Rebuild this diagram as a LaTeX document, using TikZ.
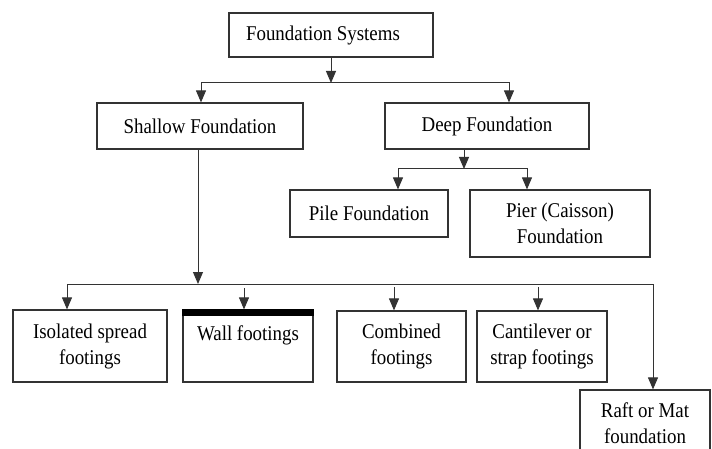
\documentclass[tikz,border=0pt]{standalone}
\usepackage{fontspec}
\setmainfont{Liberation Serif}[FakeStretch=0.9]
\usetikzlibrary{arrows.meta}
\begin{document}
\begin{tikzpicture}[x=1pt,y=-1pt,
  box/.style={draw=black!80,line width=1.2pt,fill=white,inner sep=0pt,align=center,
    font=\fontsize{21}{26}\selectfont,text=black},
  conn/.style={draw=black!80,line width=1pt},
  arr/.style={conn,-{Triangle[width=10pt,length=12pt]}}]
\fill[white] (0,0) rectangle (712,449);
\useasboundingbox (0,0) rectangle (712,449);
\clip (0,0) rectangle (712,449);
% boxes
\node[box,minimum width=204pt,minimum height=44pt] (sys) at (331,35) {\hspace*{-16pt}Foundation Systems};
\node[box,minimum width=206pt,minimum height=46pt] (shallow) at (200,126) {Shallow Foundation};
\node[box,minimum width=204pt,minimum height=46pt] (deep) at (487,126) {Deep Foundation};
\node[box,minimum width=158pt,minimum height=47pt] (pile) at (369,213.5) {Pile Foundation};
\node[box,minimum width=180pt,minimum height=67pt] (pier) at (560,223.5) {Pier (Caisson)\\Foundation};
\node[box,minimum width=154pt,minimum height=72pt] (iso) at (90,346) {Isolated spread\\footings};
\node[box,minimum width=130pt,minimum height=72pt] (wall) at (248,346) {Wall footings\\\mbox{}};
\node[box,minimum width=129pt,minimum height=71pt] (comb) at (401.5,346.5) {Combined\\footings};
\node[box,minimum width=130pt,minimum height=71pt] (cant) at (542,346.5) {Cantilever or\\strap footings};
\node[box,minimum width=130pt,minimum height=66pt] (raft) at (645,423) {Raft or Mat\\foundation};
\fill[black] (wall.north west) rectangle ([yshift=-7pt]wall.north east);
% level 1
\coordinate (j1) at (331,83);
\draw[arr] (sys.south) -- (j1);
\draw[arr] (j1) -| ([xshift=1pt]shallow.north);
\draw[arr] (j1) -| ([xshift=22pt]deep.north);
% deep branch
\coordinate (j2) at (464,169);
\draw[arr] ([xshift=-23pt]deep.south) -- (j2);
\draw[arr] (j2) -| ([xshift=29pt]pile.north);
\draw[arr] (j2) -| ([xshift=-33pt]pier.north);
% shallow branch
\coordinate (j3) at (198,284);
\draw[arr] ([xshift=-2pt]shallow.south) -- (j3);
\coordinate (l3) at (67,284);
\coordinate (r3) at (653,284);
\draw[conn] (l3) -- (r3);
\draw[arr] (l3) -- ([xshift=-23pt]iso.north);
\draw[arr] (r3) -- ([xshift=8pt]raft.north);
\coordinate (w0) at (244,288);
\coordinate (c0) at (394,287);
\coordinate (k0) at (538,287);
\draw[arr] (w0) -- ([xshift=-4pt]wall.north);
\draw[arr] (c0) -- ([xshift=-7.5pt]comb.north);
\draw[arr] (k0) -- ([xshift=-4pt]cant.north);
\end{tikzpicture}
\end{document}
